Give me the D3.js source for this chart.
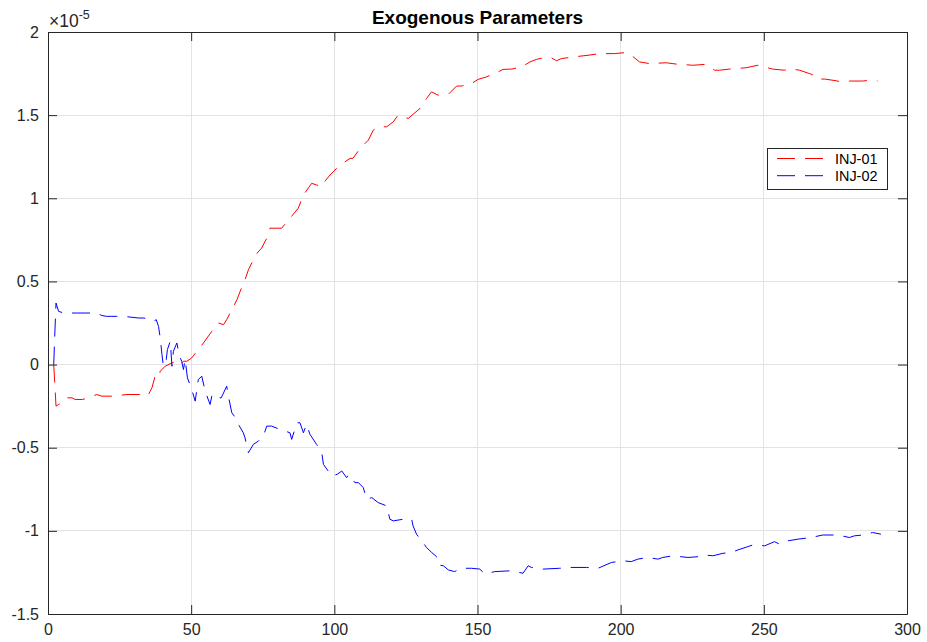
<!DOCTYPE html>
<html>
<head>
<meta charset="utf-8">
<script src="https://cdn.jsdelivr.net/npm/d3@7"></script>
<style>
  html, body { margin: 0; padding: 0; background: #fff; }
  svg { display: block; }
  text { font-family: "Liberation Sans", Arial, Helvetica, sans-serif; fill: #262626; }
</style>
</head>
<body>
<svg id="chart" width="927" height="642"></svg>
<script>
// ---- data (values in units of 1e-5) ----
const chartTitle = "Exogenous Parameters";
const seriesNames = ["INJ-01", "INJ-02"];
const seriesColors = ["#ff0000", "#0000ff"];
const xTicks = [0, 50, 100, 150, 200, 250, 300];
const yTicks = [-1.5, -1, -0.5, 0, 0.5, 1, 1.5, 2];
const exponentBase = "×10";
const exponentPower = "-5";

const xInj01 = [2,2.8,3.7,4.9,6.6,8.4,9.5,12,14.2,17,18.8,22.9,25,27.6,28.7,32.2,33.9,35.1,35.7,36.3,37.4,38.6,39.2,40.9,43.3,45,46.2,47.3,48.5,50.2,52,54.3,57.2,59.5,61.3,62.4,64.2,66,67.1,68.8,70,71.7,73,74.6,76.4,77.5,78.6,81.6,84.5,87.4,89.2,92.1,93.8,95.6,96.1,98.5,100.8,102,105.5,106.5,109,111.9,113.6,115.3,118.3,120.6,122.3,125.8,127.5,129.9,132.2,133.9,136.3,139.8,142.7,144.4,147.9,150.2,153.1,156.6,158.9,161.9,165.4,168.3,170.6,174.1,175.8,177.6,179.3,183.4,188.6,192.7,197.9,202,203.7,206.6,210.1,215.9,219.4,225.2,229.3,231,232.8,234.5,238,243.8,247.9,250.3,253.1,257.2,259,262.5,265.9,268.3,269.4,271.2,275.2,277.5,279.9,284.5,286.9,289.7];
const yInj01 = [0,-0.25,-0.24,-0.23,-0.2,-0.2,-0.21,-0.21,-0.2,-0.18,-0.19,-0.19,-0.185,-0.18,-0.18,-0.18,-0.17,-0.18,-0.16,-0.14,-0.07,-0.08,-0.04,-0.01,0.01,0.02,0,0.02,0.02,0.04,0.08,0.13,0.2,0.25,0.24,0.27,0.33,0.39,0.44,0.51,0.57,0.63,0.67,0.7,0.76,0.82,0.82,0.82,0.88,0.94,1.02,1.09,1.08,1.07,1.09,1.14,1.18,1.2,1.24,1.24,1.3,1.35,1.41,1.43,1.43,1.46,1.5,1.48,1.505,1.54,1.6,1.64,1.62,1.625,1.675,1.675,1.69,1.715,1.73,1.755,1.775,1.777,1.79,1.82,1.835,1.85,1.845,1.827,1.84,1.85,1.86,1.87,1.87,1.877,1.86,1.82,1.81,1.815,1.807,1.8,1.805,1.795,1.77,1.77,1.777,1.785,1.8,1.79,1.777,1.77,1.78,1.77,1.75,1.735,1.717,1.717,1.707,1.697,1.705,1.705,1.71,1.705];

const xInj02 = [2,2.3,2.8,3.7,5.5,7.8,10,13,15,17,18.8,20.5,22.3,24,26.4,29,31.6,33.5,35.7,36.8,37.8,38.6,39.2,39.8,40.3,41.3,41.7,42.7,43.3,43.8,45,45.9,46.7,47.3,47.9,48.7,50.2,51.4,52.5,53.7,54.9,56.6,57.2,58.4,58.9,60.5,62.4,63,64.2,65.5,66.5,68.2,68.8,70,71.7,73.5,75.2,76.4,78.1,81,84.5,85.1,86.9,88,89.2,90.3,91.5,93.8,95.6,96.2,99.1,101,102.6,104.3,105,107.2,108.4,110.1,111.3,113.1,115.3,118.3,119.4,120.6,124.1,127,127.5,128.7,130.5,132.2,134,135.7,136.3,138.1,139.8,142,144.4,147.9,150.8,152.6,156,161.9,165.9,167.7,168.8,172.9,178.7,182.2,188,192.1,196.8,200.8,203.7,206,209.5,213,214.7,218.2,223.5,227.5,229.3,232.2,235.7,238.6,240.9,244.4,246.1,250.3,253.7,255.5,258.4,261.9,266.5,270.6,275.8,279.9,281.6,284.5,288,290.9];
const yInj02 = [0,0.15,0.37,0.32,0.31,0.31,0.31,0.31,0.31,0.31,0.295,0.29,0.29,0.29,0.29,0.285,0.28,0.28,0.27,0.26,0.27,0.23,0.16,0.06,-0.01,0.03,0.09,0.14,-0.01,0.08,0.13,0.05,0.02,-0.03,0.03,-0.08,-0.15,-0.22,-0.09,-0.07,-0.16,-0.24,-0.19,-0.18,-0.2,-0.2,-0.13,-0.19,-0.29,-0.32,-0.36,-0.41,-0.44,-0.53,-0.48,-0.46,-0.43,-0.37,-0.37,-0.39,-0.41,-0.45,-0.35,-0.35,-0.41,-0.36,-0.42,-0.48,-0.53,-0.6,-0.67,-0.66,-0.64,-0.68,-0.66,-0.71,-0.71,-0.74,-0.81,-0.8,-0.83,-0.85,-0.93,-0.94,-0.93,-0.93,-0.97,-1.02,-1.06,-1.1,-1.13,-1.155,-1.205,-1.21,-1.235,-1.245,-1.225,-1.225,-1.23,-1.26,-1.245,-1.24,-1.255,-1.21,-1.22,-1.23,-1.225,-1.22,-1.22,-1.225,-1.19,-1.18,-1.185,-1.17,-1.16,-1.17,-1.16,-1.15,-1.16,-1.155,-1.145,-1.15,-1.135,-1.13,-1.115,-1.095,-1.085,-1.09,-1.065,-1.08,-1.06,-1.05,-1.04,-1.025,-1.025,-1.04,-1.03,-1.025,-1.01,-1.02];

// ---- layout ----
const W = 927, H = 642;
const m = { left: 48, right: 907, top: 32, bottom: 614 };
const axisColor = "#262626";
const gridColor = "#e3e3e3";

const svg = d3.select("#chart");
svg.append("rect").attr("width", W).attr("height", H).attr("fill", "#fff");

const x = d3.scaleLinear().domain([0, 300]).range([m.left, m.right]);
const y = d3.scaleLinear().domain([-1.5, 2]).range([m.bottom, m.top]);

// grid
const grid = svg.append("g");
grid.selectAll("line.gx").data(xTicks).join("line")
  .attr("x1", d => x(d)).attr("x2", d => x(d))
  .attr("y1", m.top).attr("y2", m.bottom)
  .attr("stroke", gridColor).attr("stroke-width", 1).attr("shape-rendering", "crispEdges");
grid.selectAll("line.gy").data(yTicks).join("line")
  .attr("y1", d => y(d)).attr("y2", d => y(d))
  .attr("x1", m.left).attr("x2", m.right)
  .attr("stroke", gridColor).attr("stroke-width", 1).attr("shape-rendering", "crispEdges");

// clip
svg.append("clipPath").attr("id", "clip").append("rect")
  .attr("x", m.left).attr("y", m.top).attr("width", m.right - m.left).attr("height", m.bottom - m.top);

const line = d3.line().x(d => x(d[0])).y(d => y(d[1]));
const series = [
  d3.zip(xInj01, yInj01),
  d3.zip(xInj02, yInj02)
];
const plot = svg.append("g").attr("clip-path", "url(#clip)");
series.forEach((s, i) => {
  plot.append("path").datum(s)
    .attr("d", line)
    .attr("fill", "none")
    .attr("stroke", seriesColors[i])
    .attr("stroke-width", 1)
    .attr("stroke-dasharray", "18,10");
});

// axes
const fmt = d => String(d);
function styleAxis(g) {
  g.select(".domain").attr("stroke", axisColor).attr("stroke-width", 1);
  g.selectAll(".tick line").attr("stroke", axisColor).attr("stroke-width", 1);
  g.selectAll(".tick text").attr("fill", axisColor).style("font-size", "16px")
    .style("font-family", '"Liberation Sans", Arial, Helvetica, sans-serif');
}
svg.append("g").attr("transform", `translate(0,${m.bottom})`)
  .call(d3.axisBottom(x).tickValues(xTicks).tickFormat(fmt).tickSizeInner(-9).tickSizeOuter(0).tickPadding(10))
  .call(styleAxis);
svg.append("g").attr("transform", `translate(${m.left},0)`)
  .call(d3.axisLeft(y).tickValues(yTicks).tickFormat(fmt).tickSizeInner(-9).tickSizeOuter(0).tickPadding(9))
  .call(styleAxis);
svg.append("g").attr("transform", `translate(0,${m.top})`)
  .call(d3.axisTop(x).tickValues(xTicks).tickFormat("").tickSizeInner(-9).tickSizeOuter(0))
  .call(styleAxis);
svg.append("g").attr("transform", `translate(${m.right},0)`)
  .call(d3.axisRight(y).tickValues(yTicks).tickFormat("").tickSizeInner(-9).tickSizeOuter(0))
  .call(styleAxis);

// exponent label
const ex = svg.append("text").attr("x", m.left + 1).attr("y", 27).style("font-size", "17.5px");
ex.append("tspan").text(exponentBase);
ex.append("tspan").attr("dy", -8).style("font-size", "12.5px").text(exponentPower);

// title
svg.append("text").attr("x", (m.left + m.right) / 2).attr("y", 24)
  .attr("text-anchor", "middle").style("font-size", "19px").style("font-weight", "bold")
  .attr("fill", "#000").style("fill", "#000")
  .text(chartTitle);

// legend
const lg = svg.append("g");
lg.append("rect").attr("x", 767.5).attr("y", 148.5).attr("width", 120).attr("height", 41)
  .attr("fill", "#fff").attr("stroke", axisColor).attr("stroke-width", 1);
seriesNames.forEach((name, i) => {
  const ly = 158.5 + i * 17.2;
  lg.append("line").attr("x1", 777).attr("x2", 823).attr("y1", ly).attr("y2", ly)
    .attr("stroke", seriesColors[i]).attr("stroke-width", 1).attr("stroke-dasharray", "18,10");
  lg.append("text").attr("x", 835).attr("y", ly).attr("dy", "0.35em")
    .style("font-size", "14.4px").attr("fill", "#000").style("fill", "#000").text(name);
});
</script>
</body>
</html>
